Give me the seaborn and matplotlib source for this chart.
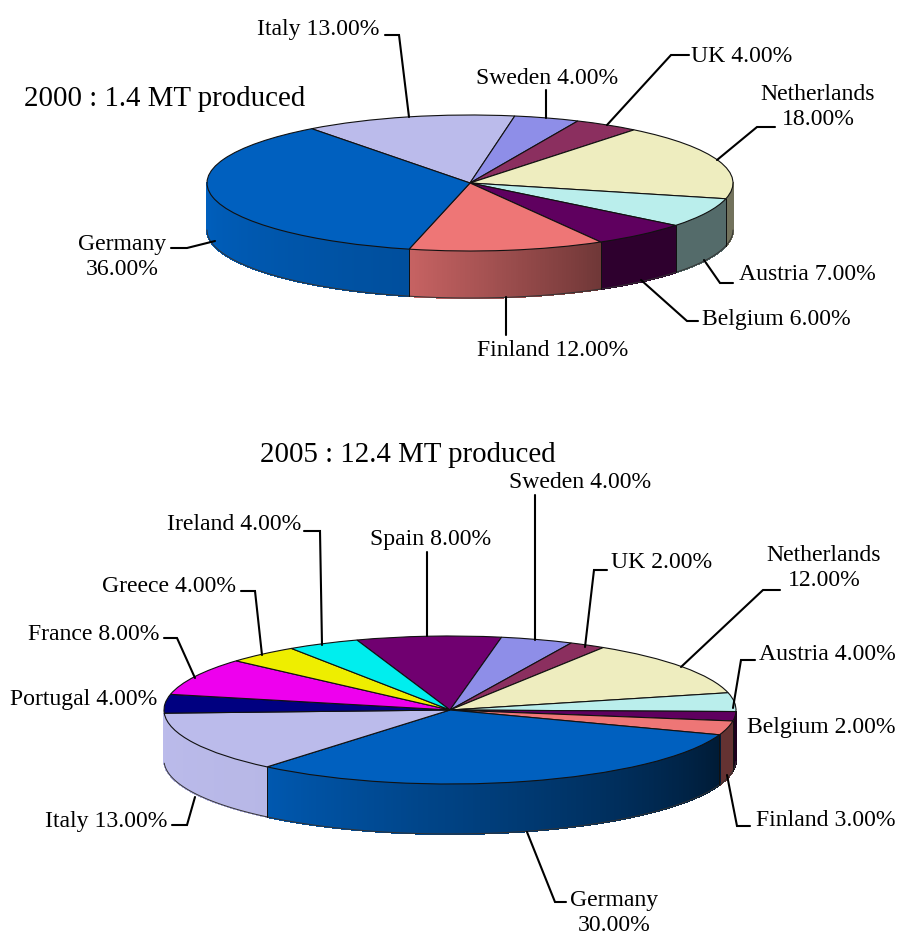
import numpy as np
import matplotlib
matplotlib.use("Agg")
import matplotlib.pyplot as plt
import seaborn as sns

sns.set_theme(style="white")
plt.rcParams["font.family"] = ["Liberation Serif", "DejaVu Serif"]

# ---- data ----
names_2000 = ["Italy", "Sweden", "UK", "Netherlands", "Austria", "Belgium", "Finland", "Germany"]
share_2000 = [13, 4, 4, 18, 7, 6, 12, 36]
names_2005 = ["Spain", "Sweden", "UK", "Netherlands", "Austria", "Belgium", "Finland",
              "Germany", "Italy", "Portugal", "France", "Greece", "Ireland"]
share_2005 = [8, 4, 2, 12, 4, 2, 3, 30, 13, 4, 8, 4, 4]

country_colors = {
    "Germany": "#0060BF", "Italy": "#BBBBEB", "Sweden": "#8E8EE8", "UK": "#8B2F5F",
    "Netherlands": "#EEEDBF", "Austria": "#BAEEEC", "Belgium": "#5F005F", "Finland": "#EE7676",
    "Portugal": "#BBBBEB", "France": "#EE00EE", "Greece": "#EEEE00", "Ireland": "#00EEEE",
    "Spain": "#700070",
}
country_colors["Portugal"] = "#000080"
# wall shading (left end, right end) for slices on the front edge
shade_2000 = {"Germany": (1.0, 0.82), "Finland": (0.84, 0.47), "Belgium": (0.48, 0.48),
              "Austria": (0.45, 0.45), "Netherlands": (0.48, 0.48)}
shade_2005 = {"Italy": (1.0, 0.98), "Germany": (0.92, 0.28), "Finland": (0.42, 0.42),
              "Belgium": (0.3, 0.3), "Austria": (0.45, 0.45)}

W, H = 900, 936
fig = plt.figure(figsize=(W / 100, H / 100), dpi=100, facecolor="white")


def draw_pie(names, values, shades, start, cx, cy, rx, ry, depth):
    ax = fig.add_axes([0, 0, 1, 1])
    ax.patch.set_alpha(0)
    palette = sns.color_palette([country_colors[n] for n in names])
    wedges, _ = ax.pie(values, startangle=start, counterclock=False, colors=palette,
                       radius=1.0, wedgeprops=dict(edgecolor="#111111", linewidth=0.8))
    ax.set_aspect("auto")
    ax.set_xlim(-cx / rx, (W - cx) / rx)
    ax.set_ylim((cy - H) / ry, cy / ry)
    for w in wedges:
        w.set_zorder(5)
    d = depth / ry
    fracs = np.asarray(values, float) / np.sum(values)
    angle = float(start)
    for name, frac, col in zip(names, fracs, palette):
        a1, a0 = angle, angle - frac * 360   # clockwise from a1 down to a0
        angle = a0
        # visible front arc: angles where sin < 0, i.e. -180..0 modulo 360
        for k in (0, -360, 360):
            lo, hi = max(a0 + k, -180), min(a1 + k, 0)
            if hi - lo < 3:   # sliver at the silhouette: no visible wall
                continue
            th = np.radians(np.linspace(lo, hi, max(int((hi - lo) * 2), 2) + 1))
            xs = np.cos(th)
            ys = np.sin(th)
            s0, s1 = shades.get(name, (0.5, 0.5))
            for i in range(len(th) - 1):
                t = (i + 0.5) / (len(th) - 1)
                f = s0 + (s1 - s0) * t
                c = tuple(np.clip(np.array(col) * f, 0, 1))
                ax.fill([xs[i], xs[i + 1], xs[i + 1], xs[i]],
                        [ys[i], ys[i + 1], ys[i + 1] - d, ys[i] - d],
                        facecolor=c, edgecolor=c, lw=0.8, antialiased=False, zorder=2)
            ax.plot(xs, ys - d, color="#333333", lw=0.7, zorder=3)
            for e in (0, -1):
                if lo > -172 and e == 0 or hi < -3 and e == -1:
                    ax.plot([xs[e], xs[e]], [ys[e], ys[e] - d], color="#111111", lw=0.7, zorder=3)
    ax.set_xticks([])
    ax.set_yticks([])
    return ax


draw_pie(names_2000, share_2000, shade_2000, 127, 470, 183, 263, 68, 47)
draw_pie(names_2005, share_2005, shade_2005, 109, 450, 710, 286, 74, 50)

# overlay in pixel space for titles, labels and leader lines
ov = fig.add_axes([0, 0, 1, 1], zorder=10)
ov.patch.set_alpha(0)
ov.set_xlim(0, W)
ov.set_ylim(H, 0)
ov.axis("off")

LABEL = 17.15
titles = [("2000 : 1.4 MT produced", 24, 99), ("2005 : 12.4 MT produced", 260, 455)]
for t, x, y in titles:
    ov.text(x, y, t, fontsize=20.8, ha="left", va="center", color="black")

labels = [
    ("Italy 13.00%", 257, 30, "left"), ("Sweden 4.00%", 547, 78, "center"),
    ("UK 4.00%", 691, 57, "left"), ("Netherlands\n18.00%", 818, 107, "center"),
    ("Austria 7.00%", 739, 275, "left"), ("Belgium 6.00%", 702, 319, "left"),
    ("Finland 12.00%", 553, 351, "center"), ("Germany\n36.00%", 122, 257, "center"),
    ("Sweden 4.00%", 580, 483, "center"), ("Spain 8.00%", 431, 540, "center"),
    ("Ireland 4.00%", 167, 524, "left"), ("Greece 4.00%", 102, 586, "left"),
    ("France 8.00%", 28, 634, "left"), ("Portugal 4.00%", 10, 700, "left"),
    ("UK 2.00%", 611, 563, "left"), ("Netherlands\n12.00%", 824, 568, "center"),
    ("Austria 4.00%", 759, 654, "left"), ("Belgium 2.00%", 747, 727, "left"),
    ("Finland 3.00%", 756, 821, "left"), ("Germany\n30.00%", 614, 913, "center"),
    ("Italy 13.00%", 45, 821, "left"),
]
for t, x, y, ha in labels:
    ov.text(x, y, t, fontsize=LABEL, ha=ha, va="center", color="black",
            linespacing=1.22, multialignment="center")

leaders = [
    [(385, 35), (399, 35), (409, 117)], [(546, 90), (546, 118)],
    [(689, 55), (671, 55), (607, 125)], [(775, 127), (757, 127), (717, 160)],
    [(704, 260), (720, 283), (733, 283)], [(641, 280), (687, 321), (698, 321)],
    [(506, 297), (506, 335)], [(215, 241), (187, 248), (171, 248)],
    [(535, 495), (535, 640)], [(427, 552), (427, 636)],
    [(304, 531), (320, 531), (322, 645)], [(241, 591), (255, 591), (262, 655)],
    [(164, 638), (177, 638), (195, 678)], [(607, 570), (594, 570), (585, 647)],
    [(780, 590), (763, 590), (681, 667)], [(755, 660), (741, 660), (733, 708)],
    [(750, 826), (737, 826), (727, 775)], [(527, 832), (555, 902), (566, 902)],
    [(172, 825), (187, 825), (195, 797)],
]
for pts in leaders:
    xs, ys = zip(*pts)
    ov.plot(xs, ys, color="black", lw=1.5, solid_joinstyle="miter")

fig.savefig("out.png", dpi=100, facecolor="white")
